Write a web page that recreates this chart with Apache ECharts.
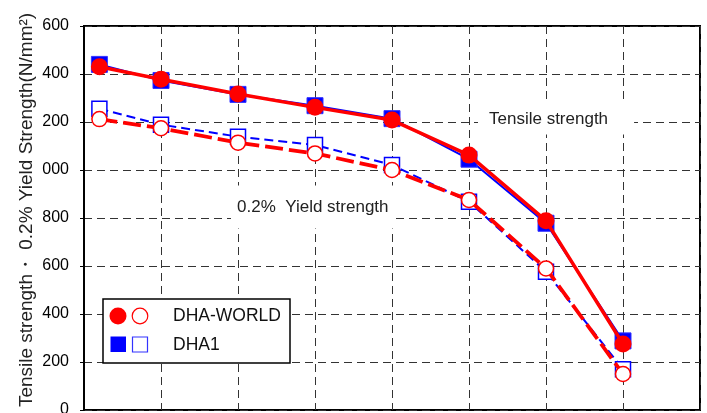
<!DOCTYPE html>
<html>
<head>
<meta charset="utf-8">
<script src="https://cdn.jsdelivr.net/npm/echarts@6/dist/echarts.min.js"></script>
<style>html,body{margin:0;padding:0;background:#fff}#c{width:707px;height:413px}</style>
</head>
<body>
<div id="c"></div>
<script>
// Temperature (°C) of each measurement
const temps = [20, 100, 200, 300, 400, 500, 600, 700];
// Tensile strength (N/mm2)
const tensileWorld = [1430, 1378, 1317, 1261, 1208, 1062, 789, 275];
const tensileDha1  = [1440, 1373, 1315, 1268, 1214, 1045, 778, 288];
// 0.2% yield strength (N/mm2)
const yieldWorld = [1212, 1174, 1114, 1069, 1000, 875, 590, 150];
const yieldDha1  = [1255, 1189, 1139, 1104, 1021, 868, 576, 170];
// y tick labels as shown (leading digit cropped in the reference)
const yTickLabels = {0:'0',200:'200',400:'400',600:'600',800:'800',1000:'000',1200:'200',1400:'400',1600:'600'};

const FONT = "'Liberation Sans', Arial, sans-serif";
const pts = arr => temps.map((t, i) => [t, arr[i]]);

const chart = echarts.init(document.getElementById('c'), null, {renderer: 'canvas'});
chart.setOption({
  animation: false,
  backgroundColor: '#fff',
  grid: {left: 84, right: 7, top: 26, bottom: 3, containLabel: false, outerBoundsMode: 'none',
         show: true, borderColor: '#000', borderWidth: 2, backgroundColor: 'transparent'},
  xAxis: {
    type: 'value', min: 0, max: 800, interval: 100,
    axisLine: {show: false}, axisTick: {show: false}, axisLabel: {show: false},
    splitLine: {show: true, lineStyle: {color: '#333', width: 1, type: [8, 5]}}
  },
  yAxis: {
    type: 'value', min: 0, max: 1600, interval: 200,
    axisLine: {show: true, lineStyle: {color: '#000', width: 2}},
    axisTick: {show: true, length: 4, lineStyle: {color: '#000'}},
    axisLabel: {color: '#000', fontSize: 16, fontFamily: FONT, margin: 15,
      formatter: v => yTickLabels[v] !== undefined ? yTickLabels[v] : String(v)},
    splitLine: {show: true, lineStyle: {color: '#333', width: 1, type: [8, 5]}}
  },
  series: [
    {name: 'DHA1 tensile', type: 'line', data: pts(tensileDha1), z: 2,
     lineStyle: {color: '#0000ff', width: 2}, symbol: 'rect', symbolSize: 16,
     itemStyle: {color: '#0000ff', borderColor: '#3333ff', borderWidth: 1}},
    {name: 'DHA1 yield', type: 'line', data: pts(yieldDha1), z: 2,
     lineStyle: {color: '#0000ff', width: 2, type: [9, 5]}, symbol: 'rect', symbolSize: 15,
     itemStyle: {color: '#fff', borderColor: '#0000ff', borderWidth: 1.5}},
    {name: 'DHA-WORLD tensile', type: 'line', data: pts(tensileWorld), z: 3,
     lineStyle: {color: '#ff0000', width: 3.5}, symbol: 'circle', symbolSize: 17,
     itemStyle: {color: '#ff0000', borderColor: '#ff0000', borderWidth: 0}},
    {name: 'DHA-WORLD yield', type: 'line', data: pts(yieldWorld), z: 3,
     lineStyle: {color: '#ff0000', width: 3.8, type: [18, 6]}, symbol: 'circle', symbolSize: 15,
     itemStyle: {color: '#fff', borderColor: '#ff0000', borderWidth: 1.5}}
  ],
  graphic: [
    {type: 'text', x: 27, y: 210, rotation: Math.PI / 2, z: 10,
     style: {text: 'Tensile strength・ 0.2% Yield Strength(N/mm²)', fontSize: 19, fontFamily: FONT,
             fill: '#222', align: 'center', verticalAlign: 'middle'}},
    {type: 'text', x: 478, y: 119, z: 10,
     style: {text: 'Tensile strength', fontSize: 17, fontFamily: FONT, fill: '#222', align: 'left', verticalAlign: 'middle',
             backgroundColor: '#fff', padding: [7, 26, 7, 11]}},
    {type: 'text', x: 231, y: 207, z: 10,
     style: {text: '0.2%  Yield strength', fontSize: 17, fontFamily: FONT, fill: '#222', align: 'left', verticalAlign: 'middle',
             backgroundColor: '#fff', padding: [13, 6, 13, 6]}},
    {type: 'rect', z: 20, shape: {x: 103, y: 299, width: 187, height: 64},
     style: {fill: '#fff', stroke: '#000', lineWidth: 1.5}},
    {type: 'circle', z: 21, shape: {cx: 118, cy: 316, r: 8.5}, style: {fill: '#ff0000'}},
    {type: 'circle', z: 21, shape: {cx: 140, cy: 316, r: 7.8}, style: {fill: '#fff', stroke: '#ff0000', lineWidth: 1.2}},
    {type: 'text', z: 21, x: 173, y: 316, style: {text: 'DHA-WORLD', fontSize: 17.5, fontFamily: FONT, fill: '#111', verticalAlign: 'middle'}},
    {type: 'rect', z: 21, shape: {x: 110.5, y: 336.5, width: 15.5, height: 15.5}, style: {fill: '#0000ff'}},
    {type: 'rect', z: 21, shape: {x: 132.5, y: 337, width: 15, height: 15}, style: {fill: '#fff', stroke: '#3333ff', lineWidth: 1.2}},
    {type: 'text', z: 21, x: 173, y: 345, style: {text: 'DHA1', fontSize: 17.5, fontFamily: FONT, fill: '#111', verticalAlign: 'middle'}}
  ]
});
</script>
</body>
</html>
